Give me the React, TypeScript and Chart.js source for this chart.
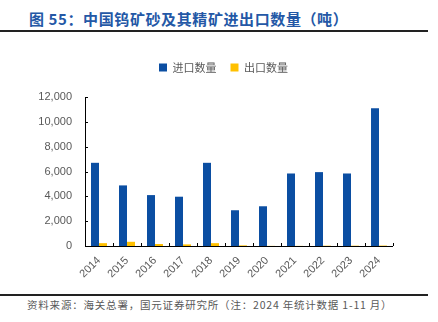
import React, { useEffect, useRef } from "react";
import { Chart, registerables } from "chart.js";

Chart.register(...registerables);

const categories = ["2014", "2015", "2016", "2017", "2018", "2019", "2020", "2021", "2022", "2023", "2024"];
const importVolume = [6700, 4880, 4100, 3970, 6700, 2880, 3200, 5840, 5950, 5840, 11100];
const exportVolume = [230, 340, 160, 130, 230, 50, 10, 10, 25, 25, 35];
const yTicks = [0, 2000, 4000, 6000, 8000, 10000, 12000];

const title = "图 55：中国钨矿砂及其精矿进出口数量（吨）";
const source = "资料来源：海关总署，国元证券研究所（注：2024 年统计数据 1-11 月）";

const legendGap = {
  id: "legendGap",
  beforeUpdate(chart: any) {
    const lg = chart.legend;
    if (lg && !lg.__patched) {
      const orig = lg.fit;
      lg.fit = function () {
        orig.call(this);
        this.height += 12;
      };
      lg.__patched = true;
    }
  },
  afterLayout(chart: any) {
    const lg = chart.legend;
    if (lg) {
      lg.left += 27;
      lg.right += 27;
      lg.top -= 2;
      lg.bottom -= 2;
    }
  },
};

const innerTicks = {
  id: "innerTicks",
  afterDraw(chart: any) {
    const { ctx, chartArea, scales } = chart;
    const x = scales.x;
    const y = scales.y;
    ctx.save();
    ctx.strokeStyle = "#000";
    ctx.lineWidth = 1;
    ctx.beginPath();
    ctx.moveTo(chartArea.left + 0.5, chartArea.top);
    ctx.lineTo(chartArea.left + 0.5, chartArea.bottom);
    ctx.moveTo(chartArea.left, chartArea.bottom + 0.5);
    ctx.lineTo(chartArea.right, chartArea.bottom + 0.5);
    yTicks.forEach((v) => {
      const py = Math.round(y.getPixelForValue(v)) + 0.5;
      ctx.moveTo(chartArea.left, py);
      ctx.lineTo(chartArea.left + 3, py);
    });
    for (let i = 0; i <= categories.length; i++) {
      const px = Math.round(x.getPixelForValue(i - 0.5)) + 0.5;
      ctx.moveTo(px, chartArea.bottom);
      ctx.lineTo(px, chartArea.bottom - 3);
    }
    ctx.stroke();
    ctx.restore();
  },
};

export default function App() {
  const ref = useRef<HTMLCanvasElement>(null);
  useEffect(() => {
    document.body.style.margin = "0";
    const chart = new Chart(ref.current!, {
      type: "bar",
      data: {
        labels: categories,
        datasets: [
          { label: "进口数量", data: importVolume, backgroundColor: "#0b4ea2", categoryPercentage: 0.57, barPercentage: 1 },
          { label: "出口数量", data: exportVolume, backgroundColor: "#ffc000", categoryPercentage: 0.57, barPercentage: 1 },
        ],
      },
      options: {
        animation: false,
        responsive: false,
        maintainAspectRatio: false,
        layout: { padding: { left: 0, right: 45, top: 0, bottom: 0 } },
        plugins: {
          legend: {
            display: true,
            position: "top",
            labels: {
              boxWidth: 8,
              boxHeight: 8,
              padding: 14,
              color: "#595959",
              font: { family: "'Noto Sans CJK SC'", size: 11 },
            },
          },
          tooltip: { enabled: false },
        },
        scales: {
          x: {
            grid: { display: false, drawTicks: false },
            border: { display: false },
            ticks: {
              color: "#595959",
              font: { family: "'Liberation Sans', Arial", size: 11 },
              minRotation: 45,
              maxRotation: 45,
              padding: 8,
            },
            afterFit(scale: any) {
              scale.height = 44;
            },
          },
          y: {
            min: 0,
            max: 12000,
            afterBuildTicks(scale: any) {
              scale.ticks = yTicks.map((v) => ({ value: v }));
            },
            grid: { display: false, drawTicks: false },
            border: { display: false },
            ticks: {
              color: "#595959",
              font: { family: "'Liberation Sans', Arial", size: 11 },
              padding: 13,
              callback: (v: any) => Number(v).toLocaleString("en-US"),
            },
            afterFit(scale: any) {
              scale.width = 85;
            },
          },
        },
      },
      plugins: [legendGap, innerTicks],
    });
    return () => chart.destroy();
  }, []);

  return (
    <div style={{ position: "relative", width: 438, height: 322, background: "#fff", overflow: "hidden" }}>
      <div
        style={{
          position: "absolute",
          left: 29,
          top: 8,
          fontFamily: "'Noto Sans CJK SC'",
          fontWeight: 700,
          fontSize: 15,
          letterSpacing: 0.6,
          color: "#2458a6",
          whiteSpace: "nowrap",
          lineHeight: "22px",
        }}
      >
        {title}
      </div>
      <div style={{ position: "absolute", left: 0, top: 30, width: 428, height: 2, background: "#222" }} />
      <canvas ref={ref} width={438} height={240} style={{ position: "absolute", left: 0, top: 50 }} />
      <div style={{ position: "absolute", left: 0, top: 294, width: 428, height: 2, background: "#222" }} />
      <div
        style={{
          position: "absolute",
          left: 27,
          top: 297,
          fontFamily: "'Noto Sans CJK SC'",
          fontSize: 10.5,
          letterSpacing: 0.8,
          color: "#595959",
          whiteSpace: "nowrap",
          lineHeight: "16px",
        }}
      >
        {source}
      </div>
    </div>
  );
}
